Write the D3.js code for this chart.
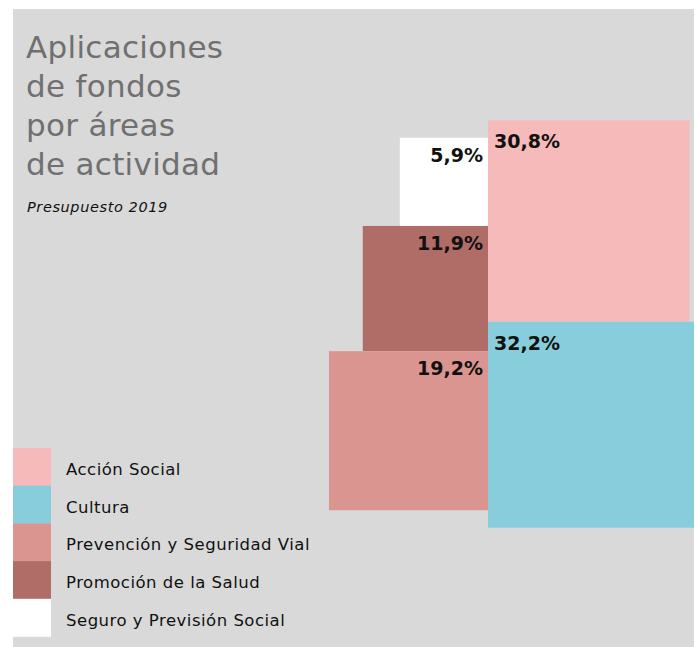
<!DOCTYPE html>
<html>
<head>
<meta charset="utf-8">
<script src="https://cdn.jsdelivr.net/npm/d3@7"></script>
<style>
  body { margin: 0; background: #fff; }
  svg { display: block; font-family: "DejaVu Sans", sans-serif; }
</style>
</head>
<body>
<svg width="698" height="647"></svg>
<script>
// data
const categories = ['Acción Social', 'Cultura', 'Prevención y Seguridad Vial', 'Promoción de la Salud', 'Seguro y Previsión Social'];
const values = [30.8, 32.2, 19.2, 11.9, 5.9];
const colors = ['#f7baba', '#88cddc', '#da9590', '#b06c67', '#ffffff'];
const leftColumn = ['Seguro y Previsión Social', 'Promoción de la Salud', 'Prevención y Seguridad Vial'];
const rightColumn = ['Acción Social', 'Cultura'];
const titleLines = ['Aplicaciones', 'de fondos', 'por áreas', 'de actividad'];

const svg = d3.select('svg');
const fmt = v => d3.format('.1f')(v).replace('.', ',') + '%';

const color = d3.scaleOrdinal().domain(categories).range(colors);
const valueOf = name => values[categories.indexOf(name)];

// side of each square, area proportional to value
const side = d3.scaleSqrt().domain([0, 100]).range([0, 363]);

const centerY = 324;
const splitX = 488;

// panel
svg.append('rect')
    .attr('x', 13).attr('y', 9)
    .attr('width', 681).attr('height', 638)
    .attr('fill', '#d9d9d9');

// title
svg.append('g')
    .selectAll('text')
    .data(titleLines)
    .enter().append('text')
    .attr('x', 26)
    .attr('y', (d, i) => 58 + i * 39)
    .attr('fill', '#707070')
    .style('font-size', '31px')
    .style('letter-spacing', '0.3px')
    .text(d => d);

svg.append('text')
    .attr('x', 27).attr('y', 212)
    .style('font-size', '14.5px')
    .style('font-style', 'italic')
    .style('letter-spacing', '0.6px')
    .attr('fill', '#111')
    .text('Presupuesto 2019');

// stack a column so it is centred on centerY
function stack(names) {
    const total = d3.sum(names, n => side(valueOf(n)));
    let y = centerY - total / 2;
    return names.map(n => {
        const s = side(valueOf(n));
        const d = { name: n, value: valueOf(n), size: s, y: y };
        y += s;
        return d;
    });
}

const left = stack(leftColumn);
const right = stack(rightColumn);

const squares = svg.append('g');

squares.selectAll('rect.left')
    .data(left)
    .enter().append('rect')
    .attr('class', 'left')
    .attr('x', d => splitX - d.size)
    .attr('y', d => d.y)
    .attr('width', d => d.size)
    .attr('height', d => d.size)
    .attr('fill', d => color(d.name));

squares.selectAll('rect.right')
    .data(right)
    .enter().append('rect')
    .attr('class', 'right')
    .attr('x', splitX)
    .attr('y', d => d.y)
    .attr('width', d => d.size)
    .attr('height', d => d.size)
    .attr('fill', d => color(d.name));

squares.selectAll('text.left')
    .data(left)
    .enter().append('text')
    .attr('class', 'left')
    .attr('x', splitX - 5)
    .attr('y', d => d.y + 24)
    .attr('text-anchor', 'end')
    .style('font-size', '19px')
    .style('font-weight', 'bold')
    .attr('fill', '#111')
    .text(d => fmt(d.value));

squares.selectAll('text.right')
    .data(right)
    .enter().append('text')
    .attr('class', 'right')
    .attr('x', splitX + 6)
    .attr('y', d => d.y + 28)
    .style('font-size', '19px')
    .style('font-weight', 'bold')
    .attr('fill', '#111')
    .text(d => fmt(d.value));

// legend
const rowH = 37.7;
const legend = svg.append('g')
    .selectAll('g')
    .data(categories)
    .enter().append('g')
    .attr('transform', (d, i) => `translate(13, ${448 + i * rowH})`);

legend.append('rect')
    .attr('width', 38)
    .attr('height', rowH + 0.3)
    .attr('fill', d => color(d));

legend.append('text')
    .attr('x', 53)
    .attr('y', 27)
    .style('font-size', '16.5px')
    .style('letter-spacing', '0.5px')
    .attr('fill', '#111')
    .text(d => d);
</script>
</body>
</html>
